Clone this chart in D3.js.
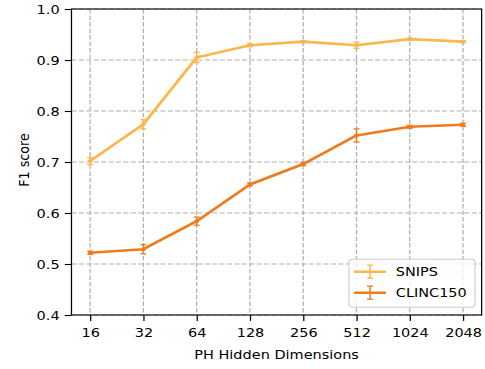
<!DOCTYPE html>
<html>
<head>
<meta charset="utf-8">
<script src="https://cdn.jsdelivr.net/npm/d3@7"></script>
<style>
  body { margin: 0; background: #fff; }
  svg { display: block; }
  text { font-family: "DejaVu Sans", sans-serif; fill: #000; }
</style>
</head>
<body>
<svg id="chart" width="485" height="369"></svg>
<script>
// data
const dims = ["16", "32", "64", "128", "256", "512", "1024", "2048"];
const snips = [0.702, 0.774, 0.905, 0.929, 0.936, 0.929, 0.941, 0.936];
const snipsErr = [0.007, 0.009, 0.010, 0.003, 0.002, 0.006, 0.002, 0.002];
const clinc = [0.522, 0.529, 0.584, 0.656, 0.696, 0.752, 0.769, 0.773];
const clincErr = [0.003, 0.009, 0.008, 0.003, 0.003, 0.013, 0.003, 0.003];
const yTicks = [0.4, 0.5, 0.6, 0.7, 0.8, 0.9, 1.0];

// the reference is a bit wider than tall in its scaling, so draw in a narrower box and stretch
const stretch = 1.14;
const W = 485 / stretch, H = 369;
const svg = d3.select("#chart")
    .attr("viewBox", `0 0 ${W} ${H}`)
    .attr("preserveAspectRatio", "none");

const pLeft = 62.7, pRight = 422.5, pTop = 9, pBottom = 315;
const fs = 12.7;

const x = d3.scalePoint().domain(dims).range([pLeft, pRight]).padding(0.35);
const y = d3.scaleLinear().domain([0.4, 1.0]).range([pBottom, pTop]);

// grid
const grid = svg.append("g")
    .attr("stroke", "#b0b0b0")
    .attr("stroke-width", 1.1)
    .attr("stroke-dasharray", "4.5,2");
grid.selectAll("line.v").data(dims).enter().append("line")
    .attr("x1", d => x(d)).attr("x2", d => x(d))
    .attr("y1", pTop).attr("y2", pBottom);
grid.selectAll("line.h").data(yTicks).enter().append("line")
    .attr("x1", pLeft).attr("x2", pRight)
    .attr("y1", d => y(d)).attr("y2", d => y(d));

const series = [
    {name: "SNIPS", color: "#fdb64b", vals: snips, errs: snipsErr},
    {name: "CLINC150", color: "#f17a1d", vals: clinc, errs: clincErr}
];

const line = d3.line().x((d, i) => x(dims[i])).y(d => y(d));
const cap = 2.6;

series.forEach(s => {
    const g = svg.append("g");
    g.append("path")
        .datum(s.vals)
        .attr("d", line)
        .attr("fill", "none")
        .attr("stroke", s.color)
        .attr("stroke-width", 2.6)
        .attr("stroke-linejoin", "round");
    const eb = g.selectAll("g.eb").data(s.vals).enter().append("g")
        .attr("stroke", s.color)
        .attr("stroke-width", 1.3);
    eb.append("line")
        .attr("x1", (d, i) => x(dims[i])).attr("x2", (d, i) => x(dims[i]))
        .attr("y1", (d, i) => y(d - s.errs[i])).attr("y2", (d, i) => y(d + s.errs[i]));
    eb.append("line")
        .attr("x1", (d, i) => x(dims[i]) - cap).attr("x2", (d, i) => x(dims[i]) + cap)
        .attr("y1", (d, i) => y(d - s.errs[i])).attr("y2", (d, i) => y(d - s.errs[i]));
    eb.append("line")
        .attr("x1", (d, i) => x(dims[i]) - cap).attr("x2", (d, i) => x(dims[i]) + cap)
        .attr("y1", (d, i) => y(d + s.errs[i])).attr("y2", (d, i) => y(d + s.errs[i]));
    g.selectAll("circle").data(s.vals).enter().append("circle")
        .attr("cx", (d, i) => x(dims[i]))
        .attr("cy", d => y(d))
        .attr("r", 2)
        .attr("fill", s.color);
});

// axes
const xAxis = svg.append("g")
    .attr("transform", `translate(0,${pBottom})`)
    .call(d3.axisBottom(x).tickSize(5.9).tickPadding(7.4));
const yAxis = svg.append("g")
    .attr("transform", `translate(${pLeft},0)`)
    .call(d3.axisLeft(y).tickValues(yTicks).tickFormat(d3.format(".1f")).tickSize(5.9).tickPadding(4.5));
[xAxis, yAxis].forEach(a => {
    a.select(".domain").remove();
    a.selectAll(".tick line").attr("stroke", "#000").attr("stroke-width", 1.1);
    a.selectAll("text").attr("font-size", fs).attr("font-family", "DejaVu Sans").attr("fill", "#000");
});

// frame
svg.append("rect")
    .attr("x", pLeft).attr("y", pTop)
    .attr("width", pRight - pLeft).attr("height", pBottom - pTop)
    .attr("fill", "none")
    .attr("stroke", "#000")
    .attr("stroke-width", 1.1);

// labels
svg.append("text")
    .attr("x", (pLeft + pRight) / 2)
    .attr("y", 359.5)
    .attr("text-anchor", "middle")
    .attr("font-size", fs)
    .text("PH Hidden Dimensions");
svg.append("text")
    .attr("transform", `translate(25.4,${(pTop + pBottom) / 2 - 2}) rotate(-90)`)
    .attr("text-anchor", "middle")
    .attr("font-size", fs)
    .text("F1 score");

// legend
const lg = svg.append("g");
lg.append("rect")
    .attr("x", 306.1).attr("y", 259.3)
    .attr("width", 110.6).attr("height", 48)
    .attr("rx", 3)
    .attr("fill", "#fff")
    .attr("fill-opacity", 0.8)
    .attr("stroke", "#cccccc")
    .attr("stroke-width", 1);
const rows = [271.7, 292.7];
series.forEach((s, i) => {
    const r = lg.append("g").attr("stroke", s.color);
    r.append("line").attr("x1", 310.5).attr("x2", 338.6).attr("y1", rows[i]).attr("y2", rows[i]).attr("stroke-width", 2.6);
    r.append("line").attr("x1", 324.6).attr("x2", 324.6).attr("y1", rows[i] - 6.5).attr("y2", rows[i] + 6.5).attr("stroke-width", 1.3);
    r.append("line").attr("x1", 324.6 - cap).attr("x2", 324.6 + cap).attr("y1", rows[i] - 6.5).attr("y2", rows[i] - 6.5).attr("stroke-width", 1.3);
    r.append("line").attr("x1", 324.6 - cap).attr("x2", 324.6 + cap).attr("y1", rows[i] + 6.5).attr("y2", rows[i] + 6.5).attr("stroke-width", 1.3);
    lg.append("text")
        .attr("x", 347.2)
        .attr("y", rows[i] + 4.6)
        .attr("font-size", fs)
        .text(s.name);
});
</script>
</body>
</html>
